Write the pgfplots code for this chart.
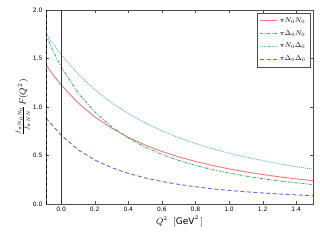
\documentclass[border=0pt]{standalone}
\usepackage{fontspec}
\setmainfont{DejaVu Sans}
\usepackage{pgfplots}
\pgfplotsset{compat=1.18}
\definecolor{cred}{HTML}{F07878}
\definecolor{cgreen}{HTML}{3CB371}
\definecolor{cblue}{HTML}{5AAEFF}
\definecolor{cpurp}{HTML}{6F5FF0}
\begin{document}
\begin{tikzpicture}
\begin{axis}[
  scale only axis, width=267pt, height=194pt,
  xmin=-0.09, xmax=1.5, ymin=0, ymax=2.0,
  xtick={0,0.2,...,1.4}, ytick={0,0.5,...,2.0},
  xticklabel style={/pgf/number format/fixed,/pgf/number format/fixed zerofill,/pgf/number format/precision=1},
  yticklabel style={/pgf/number format/fixed,/pgf/number format/fixed zerofill,/pgf/number format/precision=1},
  /pgf/number format/assume math mode=true,
  tick label style={font=\fontsize{6}{7}\selectfont},
  major tick length=3pt,
  tick style={black!70},
  axis line style={black!70, line width=0.8pt},
  xlabel={$Q^2\ \ [\mathrm{GeV}^2\,]$},
  ylabel={$\frac{f_{\pi N_0 N_0}}{f_{\pi NN}}F(Q^2\,)$},
  label style={font=\fontsize{9}{10}\selectfont},
  xlabel style={yshift=3pt},
  ylabel style={yshift=-4pt},
  legend style={at={(0.99,0.985)}, anchor=north east, font=\fontsize{7}{8}\selectfont, draw=black!70, row sep=2.5pt, inner sep=2.5pt},
  legend cell align=left,
]
\addplot[cred, line width=0.9pt] coordinates {
(-0.09,1.436)(-0.05,1.337)(0,1.227)(0.1,1.044)(0.2,0.899)(0.3,0.783)(0.4,0.687)(0.5,0.608)(0.6,0.542)(0.7,0.486)(0.8,0.439)(0.9,0.398)(1.0,0.362)(1.1,0.331)(1.2,0.304)(1.3,0.280)(1.4,0.259)(1.5,0.240)};
\addlegendentry{$\pi N_0 N_0$}
\addplot[cgreen, line width=0.9pt, dash pattern=on 3pt off 1.5pt on 1pt off 1.5pt] coordinates {
(-0.09,1.745)(-0.05,1.586)(0,1.415)(0.1,1.147)(0.2,0.949)(0.3,0.798)(0.4,0.680)(0.5,0.587)(0.6,0.511)(0.7,0.449)(0.8,0.398)(0.9,0.355)(1.0,0.319)(1.1,0.288)(1.2,0.261)(1.3,0.238)(1.4,0.218)(1.5,0.200)};
\addlegendentry{$\pi\Delta_0 N_0$}
\addplot[cblue, line width=0.9pt, dash pattern=on 1pt off 1pt] coordinates {
(-0.09,1.759)(-0.05,1.656)(0,1.540)(0.1,1.342)(0.2,1.179)(0.3,1.044)(0.4,0.932)(0.5,0.836)(0.6,0.755)(0.7,0.684)(0.8,0.624)(0.9,0.571)(1.0,0.524)(1.1,0.483)(1.2,0.447)(1.3,0.414)(1.4,0.385)(1.5,0.359)};
\addlegendentry{$\pi N_0\Delta_0$}
\addplot[cpurp, line width=0.9pt, dash pattern=on 4pt off 2.5pt] coordinates {
(-0.09,0.885)(-0.05,0.808)(0,0.710)(0.1,0.561)(0.2,0.454)(0.3,0.376)(0.4,0.316)(0.5,0.269)(0.6,0.232)(0.7,0.202)(0.8,0.178)(0.9,0.157)(1.0,0.140)(1.1,0.126)(1.2,0.114)(1.3,0.103)(1.4,0.094)(1.5,0.086)};
\addlegendentry{$\pi\Delta_0\Delta_0$}
\addplot[black!80, line width=0.6pt, forget plot] coordinates {(0,0)(0,2)};
\addplot[black, line width=0.6pt, dashed, forget plot] coordinates {(-0.086,0)(-0.086,2)};
\end{axis}
\path[use as bounding box] ([shift={(-46pt,-36pt)}]current axis.south west) rectangle ([shift={(7pt,10pt)}]current axis.north east);
\end{tikzpicture}
\end{document}
